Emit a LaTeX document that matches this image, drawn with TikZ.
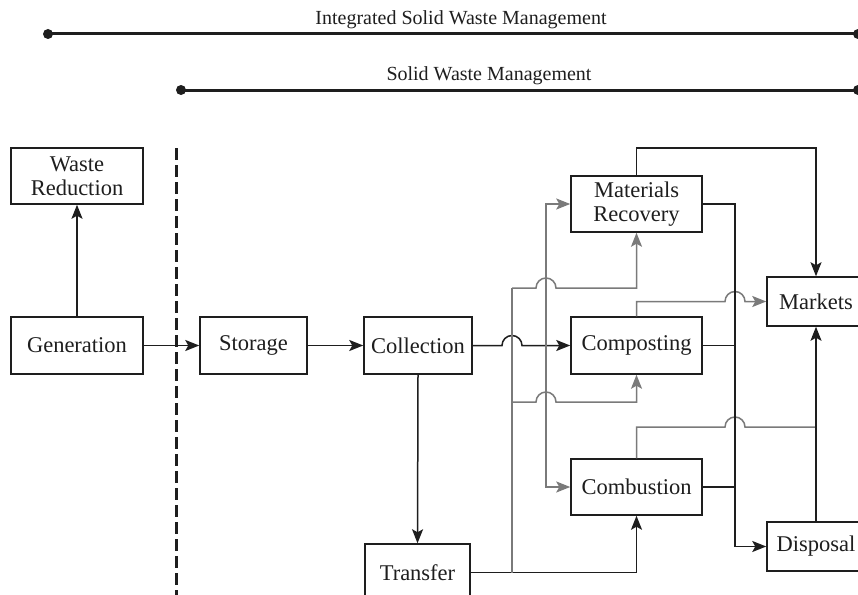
\documentclass[tikz,border=0pt]{standalone}
\usepackage{fontspec}
\setmainfont{Liberation Serif}
\usetikzlibrary{arrows.meta}
\definecolor{ink}{HTML}{1E1E1E}
\definecolor{graywire}{HTML}{7A7A7A}
\begin{document}
\begin{tikzpicture}[x=1pt,y=-1pt,
  box/.style={draw=ink, line width=1.5pt, inner sep=0pt, align=center,
    text=ink, font=\fontsize{22.5}{24.5}\selectfont},
  wire/.style={draw=ink, line width=1.5pt},
  graywire/.style={draw=graywire, line width=1.5pt},
  tip/.style={-{Stealth[length=14pt,width=11pt,inset=3pt]}},
  span/.style={draw=ink, line width=3pt},
  title/.style={text=ink, font=\fontsize{20}{24}\selectfont},
  boundary/.style={draw=ink, line width=3pt, dash pattern=on 12pt off 5pt}]
\clip (0,0) rectangle (858,594);
\fill[white] (0,0) rectangle (858,594);

% scope bars
\coordinate (iswmL) at (48,34);
\coordinate (iswmR) at (858,34);
\coordinate (swmL) at (181,90);
\coordinate (swmR) at (858,90);
\draw[span] (iswmL) -- (iswmR);
\fill[ink] (iswmL) circle (5pt) (iswmR) circle (5pt);
\node[title] (iswm) at (461,20) {Integrated Solid Waste Management};
\draw[span] (swmL) -- (swmR);
\fill[ink] (swmL) circle (5pt) (swmR) circle (5pt);
\node[title] (swm) at (489,76) {Solid Waste Management};

% boundary between generation and management
\coordinate (bndTop) at (176,148);
\coordinate (bndBot) at (176,600);
\draw[boundary] (bndTop) -- (bndBot);

% process boxes
\node[box, minimum width=132pt, minimum height=56pt] (wr) at (77,176) {Waste\\Reduction};
\node[box, minimum width=132pt, minimum height=57pt] (gen) at (77,345.5) {Generation};
\node[box, minimum width=107pt, minimum height=57pt] (sto) at (253.5,345.5) {Storage};
\node[box, minimum width=108pt, minimum height=57pt] (col) at (418,345.5) {Collection};
\node[box, minimum width=105pt, minimum height=57pt] (tra) at (417.5,572.5) {Transfer};
\node[box, minimum width=131pt, minimum height=56pt] (mr) at (636.5,204) {Materials\\Recovery};
\node[box, minimum width=131pt, minimum height=57pt] (comp) at (636.5,345.5) {Composting};
\node[box, minimum width=131pt, minimum height=56pt] (comb) at (636.5,487) {Combustion};
\node[box, minimum width=98pt, minimum height=49pt] (mk) at (816,301.5) {Markets};
\node[box, minimum width=98pt, minimum height=49pt] (dis) at (816,546.5) {Disposal};

% main chain
\draw[wire, tip] (gen.north) -- (wr.south);
\draw[wire, tip] (gen.east) -- (sto.west);
\draw[wire, tip] (sto.east) -- (col.west);
\draw[wire, tip] (col.south) -- (tra.north);

% collection to the processing boxes
\coordinate (cbus) at (546,345.5);
\draw[wire, tip] (col.east) -- (502,345.5)
  arc[start angle=180, end angle=0, radius=10pt] -- (comp.west);
\draw[graywire, tip] (cbus) |- (mr.west);
\draw[graywire, tip] (cbus) |- (comb.west);

% transfer to the processing boxes
\coordinate (tbus) at (512,572.5);
\coordinate (tbusTop) at (512,288);
\coordinate (tbusMid) at (512,402);
\draw[wire, tip] (tra.east) -| (comb.south);
\draw[graywire] (tbus) -- (tbusTop);
\draw[graywire, tip] (tbusTop) -- (536,288)
  arc[start angle=180, end angle=0, radius=10pt] -| (mr.south);
\draw[graywire, tip] (tbusMid) -- (536,402)
  arc[start angle=180, end angle=0, radius=10pt] -| (comp.south);

% recovered products to markets
\coordinate (mrTop) at (636.5,148);
\draw[wire, tip] (mr.north) -- (mrTop) -| (mk.north);
\draw[graywire, tip] (comp.north) |- (725,301.5)
  arc[start angle=180, end angle=0, radius=10pt] -- (mk.west);
\coordinate (ashJoin) at (816,427);
\draw[graywire] (comb.north) |- (725,427)
  arc[start angle=180, end angle=0, radius=10pt] -- (ashJoin);
\draw[wire, tip] (dis.north) -- (mk.south);

% residues to disposal
\coordinate (dbus) at (735,546.5);
\draw[wire, tip] (mr.east) -| (dbus) -- (dis.west);
\draw[wire] (comp.east) -- (comp.east -| dbus);
\draw[wire] (comb.east) -- (comb.east -| dbus);
\end{tikzpicture}
\end{document}
